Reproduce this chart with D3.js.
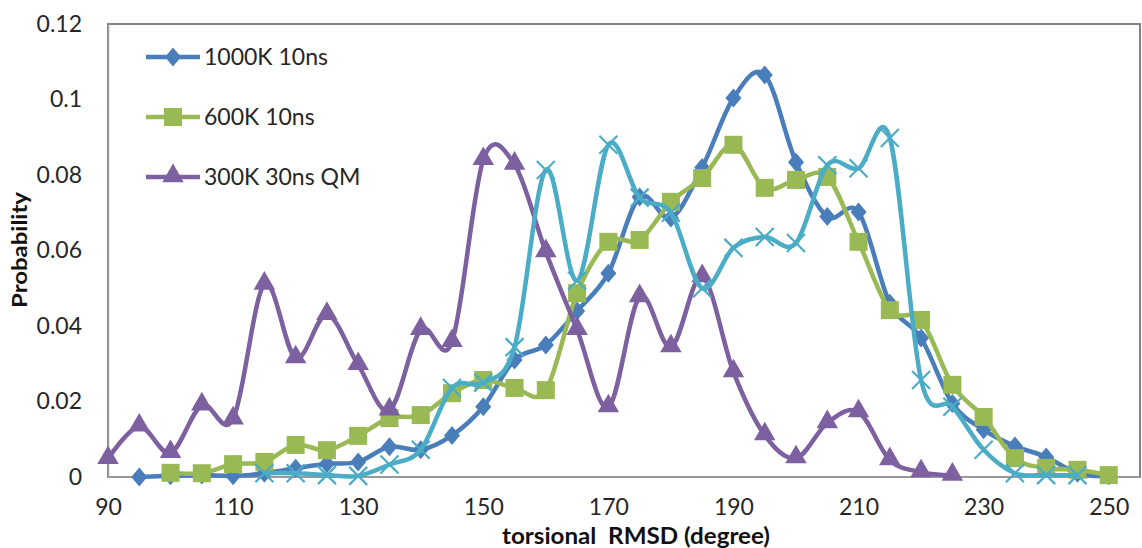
<!DOCTYPE html>
<html>
<head>
<meta charset="utf-8">
<script src="https://cdn.jsdelivr.net/npm/d3@7"></script>
<style>
  body { margin: 0; background: #fff; }
  svg { display: block; font-family: Lato, "Open Sans", sans-serif; }
</style>
</head>
<body>
<svg id="chart" width="1142" height="548"></svg>
<script>
// x values (torsional RMSD, degree)
const xBlue = [95,100,105,110,115,120,125,130,135,140,145,150,155,160,165,170,175,180,185,190,195,200,205,210,215,220,225,230,235,240,245,250];
const xGreen = [100,105,110,115,120,125,130,135,140,145,150,155,160,165,170,175,180,185,190,195,200,205,210,215,220,225,230,235,240,245,250];
const xPurple = [90,95,100,105,110,115,120,125,130,135,140,145,150,155,160,165,170,175,180,185,190,195,200,205,210,215,220,225];
const xCyan = [115,120,125,130,135,140,145,150,155,160,165,170,175,180,185,190,195,200,205,210,215,220,225,230,235,240,245];

// probabilities
const blue1000K = [0,0.0003,0.0005,0.0003,0.001,0.0023,0.0035,0.004,0.008,0.0072,0.011,0.0186,0.031,0.035,0.044,0.054,0.0742,0.0686,0.082,0.1004,0.1065,0.0834,0.069,0.0702,0.046,0.0368,0.0195,0.0125,0.0082,0.0053,0.001,0.0003];
const green600K = [0.0011,0.001,0.0034,0.004,0.0085,0.0071,0.0109,0.0156,0.0164,0.0222,0.0257,0.0236,0.023,0.0487,0.0623,0.0628,0.0729,0.0792,0.088,0.0766,0.0787,0.0795,0.0623,0.0442,0.0416,0.0244,0.0159,0.005,0.0024,0.0019,0.0005];
const purple300K = [0.0048,0.0134,0.0064,0.019,0.0153,0.051,0.0315,0.043,0.0297,0.0177,0.039,0.0358,0.084,0.0828,0.0596,0.039,0.0185,0.0477,0.0344,0.053,0.0278,0.0111,0.005,0.0143,0.0172,0.0045,0.0013,0.0004];
const cyanSeries = [0.001,0.001,0.0005,0.0003,0.0033,0.0072,0.0236,0.025,0.0344,0.0813,0.052,0.088,0.074,0.070,0.050,0.0607,0.0636,0.062,0.0826,0.0818,0.0898,0.0257,0.0186,0.0072,0.001,0.0005,0.0005];

const xTicks = [90,110,130,150,170,190,210,230,250];
const yTicks = [0,0.02,0.04,0.06,0.08,0.1,0.12];
const yTickLabels = ["0","0.02","0.04","0.06","0.08","0.1","0.12"];

const legendNames = ["1000K 10ns", "600K 10ns", "300K 30ns QM"];

let series = [
    { name: legendNames[0], xs: xBlue, ys: blue1000K, color: "#4a7ebb", marker: "diamond" },
    { name: legendNames[1], xs: xGreen, ys: green600K, color: "#98b954", marker: "square" },
    { name: legendNames[2], xs: xPurple, ys: purple300K, color: "#7d60a0", marker: "triangle" },
    { name: null, xs: xCyan, ys: cyanSeries, color: "#4bacc6", marker: "cross" }
];

let svg = d3.select("#chart");
let margin = { top: 24, right: 2, bottom: 71, left: 108 };
let width = 1142 - margin.left - margin.right;
let height = 548 - margin.top - margin.bottom;

let x = d3.scaleLinear().domain([90, 255]).range([margin.left, margin.left + width]);
let y = d3.scaleLinear().domain([0, 0.12]).range([margin.top + height, margin.top]);

// plot frame
svg.append("rect")
    .attr("x", x(90)).attr("y", y(0.12))
    .attr("width", x(255) - x(90)).attr("height", y(0) - y(0.12))
    .attr("fill", "none").attr("stroke", "#757575").attr("stroke-width", 1.8);

// axes
let xAxis = svg.append("g")
    .attr("transform", "translate(0," + y(0) + ")")
    .call(d3.axisBottom(x).tickValues(xTicks).tickSize(0).tickPadding(22).tickFormat(d3.format("d")));
let yAxis = svg.append("g")
    .attr("transform", "translate(" + x(90) + ",0)")
    .call(d3.axisLeft(y).tickValues(yTicks).tickSize(0).tickPadding(26)
        .tickFormat(function (d, i) { return yTickLabels[i]; }));

[xAxis, yAxis].forEach(function (a) {
    a.select(".domain").attr("stroke", "#a0a0a0").attr("stroke-width", 1.5);
    a.selectAll("text").attr("font-size", 23).attr("fill", "#262626")
        .attr("font-family", "Lato, 'Open Sans', sans-serif");
});
xAxis.select(".domain").remove();
svg.append("line")
    .attr("x1", x(90)).attr("x2", x(255)).attr("y1", y(0)).attr("y2", y(0))
    .attr("stroke", "#a0a0a0").attr("stroke-width", 1.5);

// axis titles
svg.append("text")
    .attr("x", 636).attr("y", 544)
    .attr("text-anchor", "middle")
    .attr("font-size", 22).attr("font-weight", "bold").attr("fill", "#111")
    .attr("textLength", 268).attr("lengthAdjust", "spacingAndGlyphs")
    .attr("xml:space", "preserve")
    .text("torsional  RMSD (degree)");
svg.append("text")
    .attr("transform", "translate(27,250) rotate(-90)")
    .attr("text-anchor", "middle")
    .attr("font-size", 20).attr("font-weight", "bold").attr("fill", "#111")
    .attr("textLength", 116).attr("lengthAdjust", "spacingAndGlyphs")
    .text("Probability");

function drawMarker(g, type, cx, cy, color) {
    if (type === "diamond") {
        g.append("path").attr("d", "M0,-9.5L8,0L0,9.5L-8,0Z")
            .attr("transform", "translate(" + cx + "," + cy + ")").attr("fill", color);
    } else if (type === "square") {
        g.append("rect").attr("x", cx - 9).attr("y", cy - 9).attr("width", 18).attr("height", 18)
            .attr("fill", color);
    } else if (type === "triangle") {
        g.append("path").attr("d", d3.symbol(d3.symbolTriangle, 200)())
            .attr("transform", "translate(" + cx + "," + (cy - 1) + ")").attr("fill", color);
    } else {
        g.append("path").attr("d", "M-9,-9L9,9M-9,9L9,-9")
            .attr("transform", "translate(" + cx + "," + cy + ")")
            .attr("stroke", color).attr("stroke-width", 2.2).attr("fill", "none");
    }
}

let line = d3.line()
    .x(function (d) { return x(d[0]); })
    .y(function (d) { return y(d[1]); })
    .curve(d3.curveCardinal.tension(0));

// draw in Excel order: last series on top
series.forEach(function (s) {
    let pts = s.xs.map(function (v, i) { return [v, s.ys[i]]; });
    let g = svg.append("g");
    g.append("path").datum(pts)
        .attr("d", line)
        .attr("fill", "none").attr("stroke", s.color).attr("stroke-width", 4.5)
        .attr("stroke-linejoin", "round");
    pts.forEach(function (p) {
        drawMarker(g, s.marker, x(p[0]), y(p[1]), s.color);
    });
});

// legend
let legend = svg.append("g");
series.filter(function (s) { return s.name; }).forEach(function (s, i) {
    let ly = 57 + i * 60;
    legend.append("line").attr("x1", 146).attr("x2", 200).attr("y1", ly).attr("y2", ly)
        .attr("stroke", s.color).attr("stroke-width", 4.5);
    drawMarker(legend, s.marker, 173, ly, s.color);
    legend.append("text").attr("x", 204).attr("y", ly + 8)
        .attr("font-size", 23).attr("fill", "#262626").text(s.name);
});
</script>
</body>
</html>
